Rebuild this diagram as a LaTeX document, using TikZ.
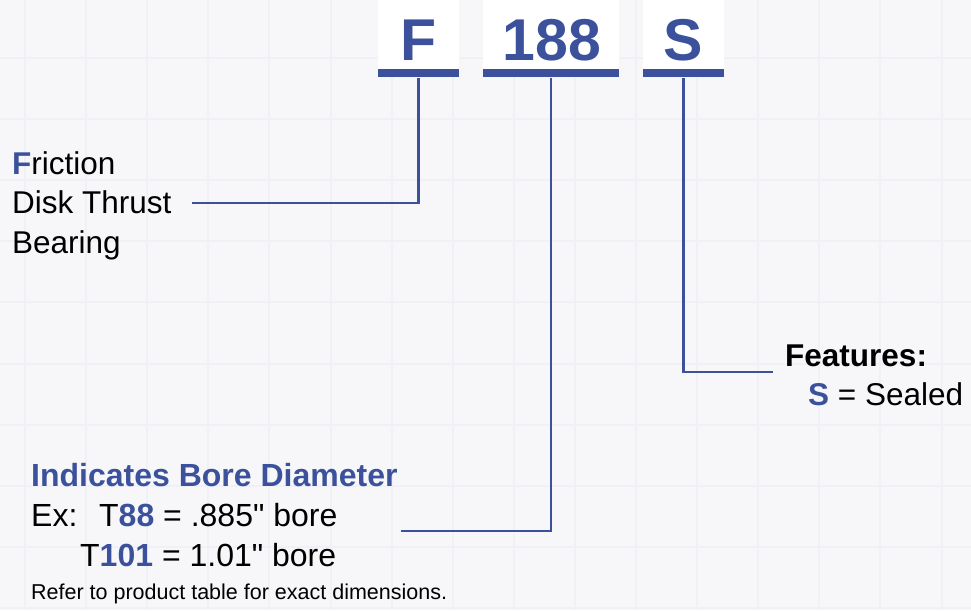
\documentclass[tikz,border=0pt]{standalone}
\usepackage{fontspec}
\setmainfont{Liberation Sans}[Ligatures=TeXOff]
\definecolor{blu}{RGB}{60,81,155}
\definecolor{bg}{RGB}{247,247,250}
\definecolor{gridc}{RGB}{240,240,246}
\begin{document}
\begin{tikzpicture}[x=1pt,y=-1pt,
  topbox/.style={draw=none,fill=white,minimum height=69pt,inner sep=0pt},
  topbar/.style={draw=none,fill=blu,minimum height=8pt,inner sep=0pt,anchor=north},
  toplbl/.style={inner sep=0pt,anchor=base,text=blu,font=\fontsize{59}{59}\selectfont\bfseries},
  lbl/.style={inner sep=0pt,anchor=base west,font=\fontsize{31.5}{37}\selectfont},
  blbl/.style={lbl,font=\fontsize{31.5}{37}\selectfont\bfseries},
  bigl/.style={inner sep=0pt,anchor=base west,font=\fontsize{32}{37}\selectfont},
  conn/.style={draw=blu,line width=2.5pt}]
\useasboundingbox (0,0) rectangle (971,610);
\fill[bg] (0,0) rectangle (971,610);
% grid
\foreach \i in {0,...,15} {\draw[gridc,line width=2pt] (25+61.1*\i,0) -- (25+61.1*\i,610);}
\foreach \j in {0,...,9} {\draw[gridc,line width=2pt] (0,58+61.1*\j) -- (971,58+61.1*\j);}
% top boxes
\node[topbox,minimum width=81pt] (fbox) at (418.5,34.5) {};
\node[topbar,minimum width=81pt] (fbar) at (fbox.south) {};
\node[toplbl] (ftxt) at (418.5,60) {F};
\node[topbox,minimum width=136pt] (nbox) at (551,34.5) {};
\node[topbar,minimum width=136pt] (nbar) at (nbox.south) {};
\node[toplbl] (ntxt) at (552,60) {188};
\node[topbox,minimum width=81pt] (sbox) at (683.5,34.5) {};
\node[topbar,minimum width=81pt] (sbar) at (sbox.south) {};
\node[toplbl] (stxt) at (683.5,60) {S};
% left text
\node[lbl] (fric) at (12,174) {{\color{blu}\bfseries F}riction};
\node[lbl] (disk) at (12,213) {Disk Thrust};
\node[lbl] (bear) at (12,253) {Bearing};
% right text
\node[blbl] (feat) at (785,366) {Features:};
\node[lbl] (seal) at (808,405) {{\color{blu}\bfseries S} = Sealed};
% bottom text
\node[bigl,font=\fontsize{32}{37}\selectfont\bfseries,text=blu] (ind) at (31,486) {Indicates Bore Diameter};
\node[bigl] (ex) at (31,526) {Ex:};
\node[bigl] (t88) at (99,526) {T{\color{blu}\bfseries 88} = .885" bore};
\node[bigl] (t101) at (80,566) {T{\color{blu}\bfseries 101} = 1.01" bore};
\node[inner sep=0pt,anchor=base west,font=\fontsize{21.5}{24}\selectfont] (refer) at (31,599) {Refer to product table for exact dimensions.};
% connector ends
\coordinate (fend) at (192,203);
\coordinate (nend) at (401,531);
\coordinate (send) at (773,372);
\draw[conn] (fbar.south) |- (fend);
\draw[conn] (nbar.south) |- (nend);
\draw[conn] (sbar.south) |- (send);
\end{tikzpicture}
\end{document}
